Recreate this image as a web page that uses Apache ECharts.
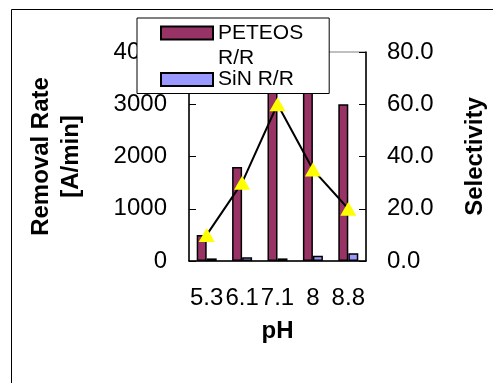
<!DOCTYPE html>
<html>
<head>
<meta charset="utf-8">
<script src="https://cdn.jsdelivr.net/npm/echarts@6/dist/echarts.min.js"></script>
<style>
  html, body { margin: 0; padding: 0; background: #fff; }
  #chart { width: 493px; height: 383px; }
</style>
</head>
<body>
<div id="chart"></div>
<script>
// 資料
const phLabels = ['5.3', '6.1', '7.1', '8', '8.8'];
const peteosRate = [500, 1800, 3600, 3500, 3000];
const sinRate = [50, 70, 50, 100, 150];
const selectivity = [10, 30, 60, 35, 20];
const rateTicks = [0, 4000, 1000];
const selTicks = [0, 80, 20];

const FONT = '"Liberation Sans", Arial, sans-serif';

// 圖例用的方塊，上方對齊第一行文字
const topBoxIcon = 'path://M0,6L52,6L52,19L0,19Z M0,0L0,0 M0,50L0,50';

const chart = echarts.init(document.getElementById('chart'));

const legendText = { fontSize: 21, lineHeight: 25, color: '#000', fontFamily: FONT };

const option = {
  animation: false,
  textStyle: { fontFamily: FONT },
  graphic: [
    {
      type: 'rect',
      z: -10,
      shape: { x: 11.5, y: 9.5, width: 520, height: 420 },
      style: { fill: 'none', stroke: '#000', lineWidth: 1 },
    },
  ],
  grid: {
    left: 189,
    right: 127,
    top: 52,
    bottom: 122,
    show: true,
    borderColor: '#808080',
    borderWidth: 1,
  },
  legend: [
    {
      orient: 'vertical',
      left: 137,
      top: 18,
      padding: [1.5, 26, 22, 23],
      backgroundColor: '#fff',
      borderColor: '#000',
      borderWidth: 1,
      itemWidth: 52,
      itemHeight: 50,
      symbolKeepAspect: false,
      itemStyle: { borderColor: '#000', borderWidth: 2 },
      textStyle: legendText,
      formatter: () => 'PETEOS\nR/R',
      data: [{ name: 'PETEOS R/R', icon: topBoxIcon }],
      z: 4,
    },
    {
      orient: 'vertical',
      left: 160,
      top: 67,
      padding: 0,
      itemWidth: 52,
      itemHeight: 13,
      icon: 'rect',
      itemStyle: { borderColor: '#000', borderWidth: 2 },
      textStyle: legendText,
      data: [{ name: 'SiN R/R' }],
      z: 5,
    },
  ],
  xAxis: {
    type: 'category',
    data: phLabels,
    name: 'pH',
    nameLocation: 'middle',
    nameGap: 58,
    nameTextStyle: { fontSize: 24, fontWeight: 'bold', color: '#000' },
    axisLine: { lineStyle: { color: '#000', width: 1.5 } },
    axisTick: { inside: true, length: 7, lineStyle: { color: '#000' } },
    axisLabel: { interval: 0, fontSize: 24, margin: 25, color: '#000' },
  },
  yAxis: [
    {
      type: 'value',
      min: rateTicks[0],
      max: rateTicks[1],
      interval: rateTicks[2],
      name: 'Removal Rate\n[A/min]',
      nameLocation: 'middle',
      nameRotate: 90,
      nameGap: 103,
      nameTextStyle: { fontSize: 24, fontWeight: 'bold', lineHeight: 30, color: '#000' },
      splitLine: { show: false },
      axisLine: { show: true, lineStyle: { color: '#000', width: 1.5 } },
      axisTick: { show: true, inside: true, length: 7, lineStyle: { color: '#000' } },
      axisLabel: { fontSize: 24, margin: 22, color: '#000', formatter: (v) => String(v) },
    },
    {
      type: 'value',
      min: selTicks[0],
      max: selTicks[1],
      interval: selTicks[2],
      name: 'Selectivity',
      nameLocation: 'middle',
      nameRotate: 90,
      nameGap: 97,
      nameTextStyle: { fontSize: 24, fontWeight: 'bold', color: '#000' },
      splitLine: { show: false },
      axisLine: { show: true, lineStyle: { color: '#000', width: 1.5 } },
      axisTick: { show: true, inside: true, length: 7, lineStyle: { color: '#000' } },
      axisLabel: { fontSize: 24, margin: 21, color: '#000', formatter: (v) => v.toFixed(1) },
    },
  ],
  series: [
    {
      name: 'PETEOS R/R',
      type: 'bar',
      data: peteosRate,
      barWidth: 10,
      barGap: '0%',
      itemStyle: { color: '#993366', borderColor: '#000', borderWidth: 1.5 },
    },
    {
      name: 'SiN R/R',
      type: 'bar',
      data: sinRate,
      barWidth: 10,
      barGap: '0%',
      itemStyle: { color: '#9999FF', borderColor: '#000', borderWidth: 1.5 },
    },
    {
      name: 'Selectivity',
      type: 'line',
      yAxisIndex: 1,
      data: selectivity,
      symbol: 'triangle',
      symbolSize: [16, 14],
      lineStyle: { color: '#000', width: 2 },
      itemStyle: { color: '#FFFF00', borderWidth: 0 },
      z: 3,
    },
  ],
};

chart.setOption(option);
</script>
</body>
</html>
